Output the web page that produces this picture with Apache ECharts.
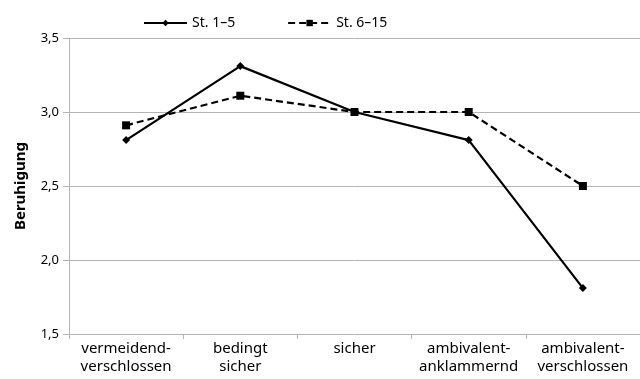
<!DOCTYPE html>
<html>
<head>
<meta charset="utf-8">
<script src="https://cdn.jsdelivr.net/npm/echarts@6/dist/echarts.min.js"></script>
<style>
  html, body { margin: 0; padding: 0; background: #fff; }
  #chart { width: 640px; height: 379px; }
</style>
</head>
<body>
<div id="chart"></div>
<script>
// Kategorien (Bindungsstil)
const categories = ["vermeidend-\nverschlossen", "bedingt\nsicher", "sicher", "ambivalent-\nanklammernd", "ambivalent-\nverschlossen"];
const seriesNames = ["St. 1–5", "St. 6–15"];
const st1to5 = [2.81, 3.31, 3.0, 2.81, 1.81];
const st6to15 = [2.91, 3.11, 3.0, 3.0, 2.5];
const yTicks = { min: 1.5, max: 3.5, step: 0.5 };

const font = "Noto Sans";
const gray = "#b4b4b4";

const chart = echarts.init(document.getElementById("chart"), null, { renderer: "canvas" });

chart.setOption({
  animation: false,
  textStyle: { fontFamily: font, color: "#000" },
  legend: {
    top: 11,
    left: 138,
    itemWidth: 43,
    itemHeight: 8,
    itemGap: 52,
    textStyle: { fontFamily: font, fontSize: 14, color: "#000" },
    data: seriesNames
  },
  // Gitter reicht rechts über den Rand hinaus (wie im Original)
  grid: { left: 69, top: 38, bottom: 45, right: -10 },
  xAxis: {
    type: "category",
    data: categories,
    boundaryGap: true,
    axisLine: { show: false },
    axisTick: { show: true, length: 5, lineStyle: { color: gray } },
    axisLabel: { fontFamily: font, fontSize: 15, color: "#000", lineHeight: 18, margin: 6, interval: 0 }
  },
  yAxis: {
    type: "value",
    min: yTicks.min,
    max: yTicks.max,
    interval: yTicks.step,
    name: "Beruhigung",
    nameLocation: "middle",
    nameGap: 41,
    nameTextStyle: { fontFamily: font, fontSize: 15, fontWeight: "bold", color: "#000" },
    axisLine: { show: true, lineStyle: { color: gray, width: 1 } },
    axisTick: { show: true, length: 6, lineStyle: { color: gray } },
    axisLabel: {
      fontFamily: font, fontSize: 13, color: "#000", margin: 10,
      formatter: (v) => v.toFixed(1).replace(".", ",")
    },
    splitLine: { show: true, lineStyle: { color: gray, width: 1 } }
  },
  series: [
    {
      name: seriesNames[0],
      type: "line",
      data: st1to5,
      symbol: "diamond",
      symbolSize: 8,
      lineStyle: { color: "#000", width: 2.2, type: "solid" },
      itemStyle: { color: "#000" }
    },
    {
      name: seriesNames[1],
      type: "line",
      data: st6to15,
      symbol: "rect",
      symbolSize: 8,
      lineStyle: { color: "#000", width: 2.2, type: [7, 4] },
      itemStyle: { color: "#000" }
    }
  ]
});
</script>
</body>
</html>
